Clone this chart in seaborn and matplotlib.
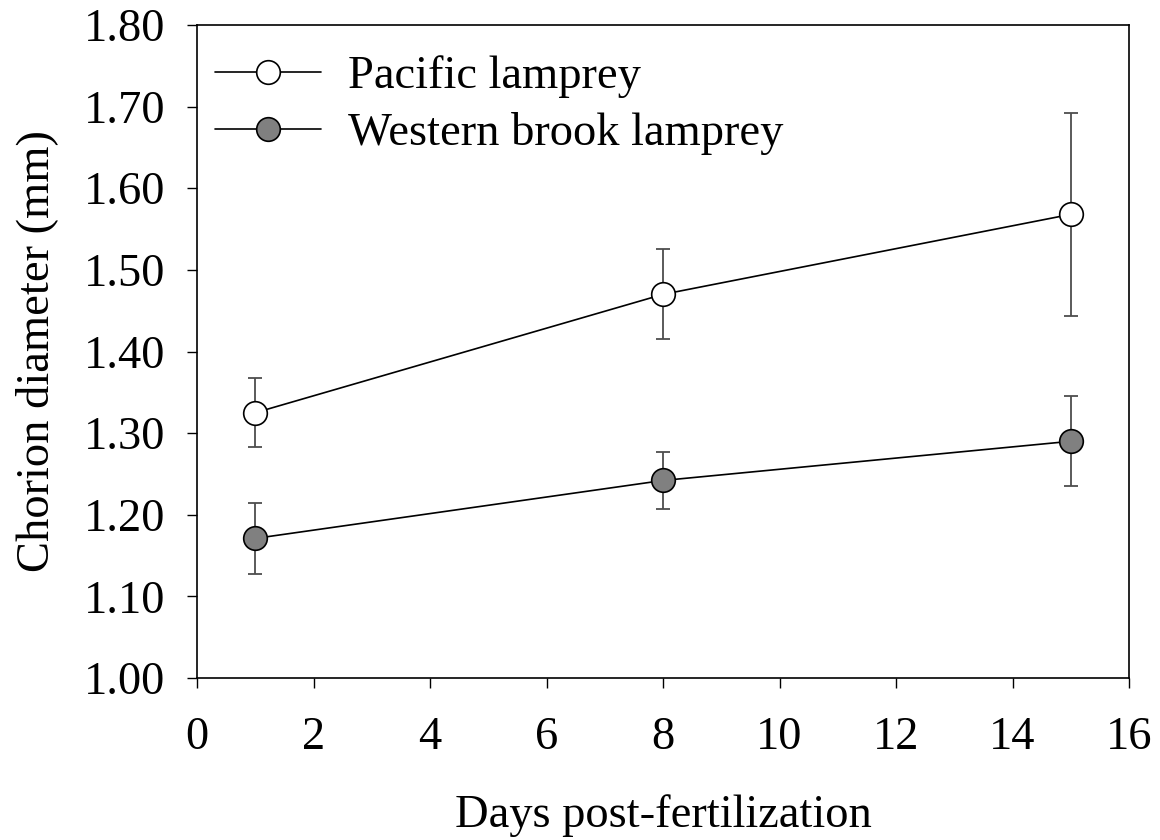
import matplotlib
matplotlib.use("Agg")
import matplotlib.pyplot as plt
import seaborn as sns
import pandas as pd

days = [1, 8, 15]
pacific_mean = [1.325, 1.470, 1.568]
pacific_err = [0.042, 0.055, 0.124]
western_mean = [1.171, 1.242, 1.290]
western_err = [0.044, 0.035, 0.055]
series_names = ["Pacific lamprey", "Western brook lamprey"]
x_ticks = [0, 2, 4, 6, 8, 10, 12, 14, 16]
y_ticks = [1.00, 1.10, 1.20, 1.30, 1.40, 1.50, 1.60, 1.70, 1.80]

sns.set_theme(style="ticks")
plt.rcParams["font.family"] = ["Liberation Serif", "DejaVu Serif"]
plt.rcParams["text.color"] = "black"
plt.rcParams["axes.labelcolor"] = "black"
plt.rcParams["xtick.color"] = "black"
plt.rcParams["ytick.color"] = "black"
plt.rcParams["legend.labelcolor"] = "black"

FS = 33.5

fig = plt.figure(figsize=(11.6, 8.4), dpi=100)
ax = fig.add_axes([197 / 1160, 1 - 678 / 840, (1129 - 197) / 1160, (678 - 25) / 840])

df = pd.DataFrame({
    "day": days * 2,
    "diam": pacific_mean + western_mean,
    "err": pacific_err + western_err,
    "species": [series_names[0]] * 3 + [series_names[1]] * 3,
})

faces = {series_names[0]: "white", series_names[1]: "#808080"}
for name in series_names:
    sub = df[df["species"] == name]
    ax.errorbar(sub["day"], sub["diam"], yerr=sub["err"], fmt="none",
                ecolor="#4d4d4d", elinewidth=1.3, capsize=5, capthick=1.3, zorder=2)
    sns.lineplot(data=sub, x="day", y="diam", ax=ax, color="black", linewidth=1.2,
                 marker="o", markersize=17, markerfacecolor=faces[name],
                 markeredgecolor="black", markeredgewidth=1.2, label=name, zorder=3)

ax.set_xlim(0, 16)
ax.set_ylim(1.0, 1.8)
ax.set_xticks(x_ticks)
ax.set_xticklabels([str(t) for t in x_ticks])
ax.set_yticks(y_ticks)
ax.set_yticklabels([f"{t:.2f}" for t in y_ticks])
ax.tick_params(axis="both", direction="out", length=7, width=1, color="black",
               labelsize=FS, labelcolor="black")
ax.tick_params(axis="x", pad=21)
ax.tick_params(axis="y", pad=16)
for s in ax.spines.values():
    s.set_visible(True)
    s.set_color("black")
    s.set_linewidth(1.2)

ax.set_xlabel("Days post-fertilization", fontsize=FS, color="black", labelpad=25)
ax.set_ylabel("Chorion diameter (mm)", fontsize=FS, color="black", labelpad=18)

leg = ax.legend(loc="upper left", bbox_to_anchor=(-12 / 932, 1.0), frameon=False,
                fontsize=FS, handlelength=2.27, handletextpad=0.58,
                labelspacing=0.3, borderaxespad=0.25)
for t in leg.get_texts():
    t.set_color("black")

fig.savefig("out.png", dpi=100, facecolor="white")
